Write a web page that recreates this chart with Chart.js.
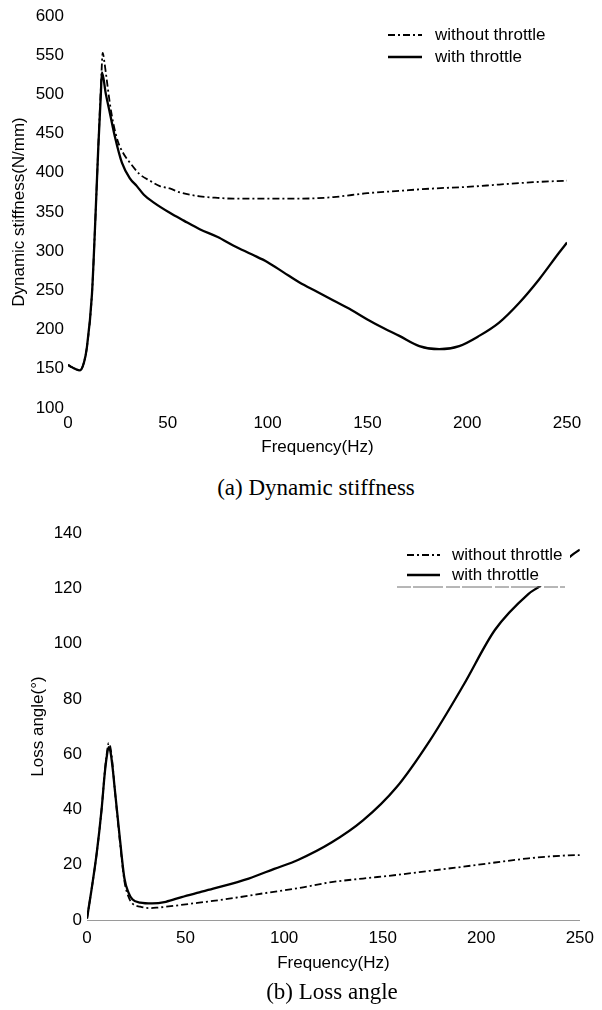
<!DOCTYPE html>
<html>
<head>
<meta charset="utf-8">
<script src="https://cdn.jsdelivr.net/npm/chart.js@4.4.0/dist/chart.umd.min.js"></script>
<style>
  body { margin: 0; background: #fff; width: 602px; height: 1010px; position: relative; overflow: hidden; }
  canvas { position: absolute; left: 0; }
  .caption { position: absolute; width: 400px; text-align: center; font-family: "Liberation Serif", "Times New Roman", serif; font-size: 23px; line-height: 26px; color: #000; }
</style>
</head>
<body>
<canvas id="stiffness" width="602" height="460" style="top:0px"></canvas>
<div class="caption" style="left:116px; top:475px">(a) Dynamic stiffness</div>
<canvas id="loss" width="602" height="480" style="top:500px"></canvas>
<div class="caption" style="left:132px; top:979px">(b) Loss angle</div>
<script>
// (a) dynamic stiffness, N/mm
var freqStiffWith = [0, 2, 6, 8, 9.5, 12, 13.5, 15.2, 16.4, 17, 19, 21, 23.5, 27, 31, 34.5, 38, 43, 51, 58, 66, 75, 83, 92, 100, 108, 116, 125, 133, 142, 150, 158, 166, 176, 186, 196, 206, 216, 226, 236, 246, 250]
var stiffWith = [155, 152, 148, 158, 178, 245, 328, 434, 497, 528, 500, 476, 446, 413, 393, 383, 372, 362, 349, 339, 328, 318, 307, 296, 286, 273, 260, 248, 237, 225, 213, 202, 192, 179, 175, 179, 192, 209, 234, 264, 298, 311]
var freqStiffWithout = [0, 2, 6, 8, 9.5, 12, 13.5, 15.2, 16.5, 17.4, 18.3, 19.4, 21, 22.7, 25, 27.7, 31, 36, 41, 46, 51, 56, 66, 75, 83, 100, 116, 133, 150, 166, 183, 200, 216, 233, 250]
var stiffWithout = [155, 152, 148, 158, 178, 245, 328, 434, 510, 553, 540, 519, 488, 463, 440, 425, 413, 398, 390, 383, 380, 375, 370, 368, 367, 367, 367, 369, 374, 377, 380, 382, 385, 388, 390]

// (b) loss angle, degrees
var freqLossWith = [0, 2.3, 4.9, 7.4, 9, 10, 11, 12, 13, 14, 16.6, 19, 21, 23, 27, 33, 40, 48, 57, 65, 82, 95, 107, 124, 140, 157, 174, 191, 207, 224, 230, 238, 246, 250]
var lossWith = [0.5, 11, 24, 40, 53, 59, 62.5, 60.5, 55, 48, 30, 15, 10, 7.5, 6.3, 6, 6.6, 8.3, 10, 11.5, 15, 18.5, 21.7, 28, 36, 48, 65, 85, 105, 118, 121, 127, 132, 134]
var freqLossWithout = [0, 2.3, 4.9, 7.4, 9, 10, 11, 12, 13, 14, 16.6, 19, 21, 23, 27, 32, 36, 45, 56, 65, 75, 90, 107, 124, 140, 157, 174, 191, 207, 224, 244, 250]
var lossWithout = [0.5, 11, 24, 40, 53.5, 60, 64, 62, 56, 48, 29, 14, 8.5, 6, 4.8, 4.3, 4.5, 5.2, 6.2, 7, 8, 9.7, 11.5, 13.7, 15, 16.3, 17.8, 19.3, 20.8, 22.3, 23.4, 23.5]

var seriesNames = ["without throttle", "with throttle"]
var freqTicks = [0, 50, 100, 150, 200, 250]

Chart.defaults.font.family = '"Liberation Sans", Arial, sans-serif'
Chart.defaults.font.size = 17
Chart.defaults.color = "#000"

function points(xs, ys) {
    return xs.map((x, i) => ({x: x, y: ys[i]}))
}

// draws the little legend with line samples (chart.js boxes can't do dash-dot nicely)
var lineLegend = {
    id: "lineLegend",
    afterDraw(chart, args, opts) {
        let ctx = chart.ctx
        ctx.save()
        if (opts.box) {
            ctx.fillStyle = "#fff"
            ctx.fillRect(opts.box[0], opts.box[1], opts.box[2], opts.box[3])
        }
        if (opts.rule) {
            ctx.strokeStyle = "#6e6e6e"
            ctx.lineWidth = 1
            ctx.setLineDash([14, 2, 30, 3])
            ctx.beginPath()
            ctx.moveTo(opts.rule[0], opts.rule[2])
            ctx.lineTo(opts.rule[1], opts.rule[2])
            ctx.stroke()
        }
        ctx.font = '17px "Liberation Sans", Arial, sans-serif'
        ctx.textBaseline = "middle"
        chart.data.datasets.forEach((ds, i) => {
            let y = opts.y + i * opts.gap
            ctx.strokeStyle = ds.borderColor
            ctx.lineWidth = ds.borderWidth
            ctx.setLineDash(ds.borderDash || [])
            ctx.beginPath()
            ctx.moveTo(opts.x, y)
            ctx.lineTo(opts.x + opts.len, y)
            ctx.stroke()
            ctx.fillStyle = "#000"
            ctx.fillText(ds.label, opts.textX, y)
        })
        ctx.restore()
    }
}

function makeChart(id, cfg) {
    let ctx = document.getElementById(id).getContext("2d")
    return new Chart(ctx, {
        type: "line",
        data: {
            datasets: [{
                label: seriesNames[0],
                data: cfg.without,
                borderColor: "#000",
                borderWidth: 1.8,
                borderDash: [7, 3, 2, 3],
                pointRadius: 0,
                cubicInterpolationMode: "monotone",
                fill: false
            }, {
                label: seriesNames[1],
                data: cfg.with,
                borderColor: "#000",
                borderWidth: 2.3,
                pointRadius: 0,
                cubicInterpolationMode: "monotone",
                fill: false
            }]
        },
        options: {
            responsive: false,
            animation: false,
            layout: { padding: cfg.padding },
            plugins: {
                legend: { display: false },
                tooltip: { enabled: false },
                lineLegend: cfg.legend
            },
            scales: {
                x: {
                    type: "linear",
                    min: 0,
                    max: 250,
                    afterBuildTicks: (scale) => { scale.ticks = freqTicks.map(v => ({value: v})) },
                    grid: { display: false, drawTicks: false },
                    border: cfg.xBorder,
                    ticks: { padding: cfg.xTickPad, maxRotation: 0 },
                    title: { display: true, text: "Frequency(Hz)", padding: { top: 0, bottom: cfg.xTitlePad } },
                    afterFit: (scale) => { scale.height = cfg.xHeight }
                },
                y: {
                    min: cfg.yMin,
                    max: cfg.yMax,
                    ticks: { stepSize: cfg.yStep, padding: cfg.yTickPad },
                    grid: { display: false, drawTicks: false },
                    border: { display: false },
                    title: { display: true, text: cfg.yTitle, padding: { top: cfg.yTitlePad, bottom: 0 } },
                    afterFit: (scale) => { scale.width = cfg.yWidth }
                }
            }
        },
        plugins: [lineLegend]
    })
}

makeChart("stiffness", {
    without: points(freqStiffWithout, stiffWithout),
    with: points(freqStiffWith, stiffWith),
    padding: { top: 16, right: 35, bottom: 0, left: 0 },
    yMin: 100, yMax: 600, yStep: 50,
    yTitle: "Dynamic stiffness(N/mm)",
    yWidth: 68, yTickPad: 4, yTitlePad: 9,
    xHeight: 52, xTickPad: 5, xTitlePad: 2,
    xBorder: { display: false },
    legend: { x: 388, y: 35, gap: 22, len: 34, textX: 435 }
})

makeChart("loss", {
    without: points(freqLossWithout, lossWithout),
    with: points(freqLossWith, lossWith),
    padding: { top: 33, right: 17, bottom: 0, left: 0 },
    yMin: 0, yMax: 140, yStep: 20,
    yTitle: "Loss angle(°)",
    yWidth: 87, yTickPad: 5, yTitlePad: 28,
    xHeight: 60, xTickPad: 8, xTitlePad: 6,
    xBorder: { display: true, color: "#9a9a9a", width: 1, dash: [5, 7] },
    legend: { x: 407, y: 55, gap: 20, len: 33, textX: 452, box: [395, 38, 175, 48], rule: [397, 565, 87] }
})
</script>
</body>
</html>
